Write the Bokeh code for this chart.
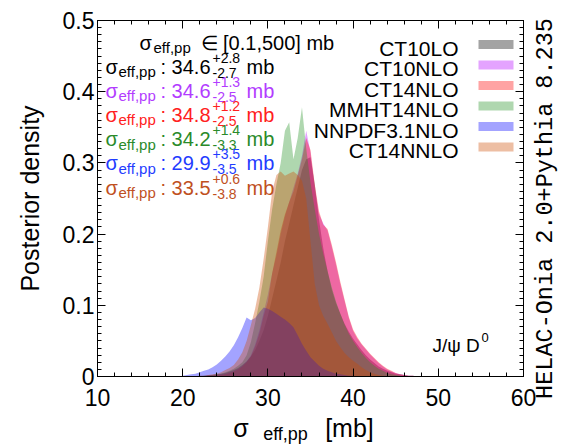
from math import pi
from bokeh.plotting import figure
from bokeh.models import Label, LinearAxis, Range1d, SingleIntervalTicker, FixedTicker
from bokeh.embed import file_html
from bokeh.resources import INLINE

# ---------------- data ----------------
sigma = [19.0, 19.5, 20.0, 20.5, 21.0, 21.5, 22.0, 22.5, 23.0, 23.5,
         24.0, 24.5, 25.0, 25.5, 26.0, 26.5, 27.0, 27.5, 28.0, 28.5,
         29.0, 29.5, 30.0, 30.5, 31.0, 31.5, 32.0, 32.5, 33.0, 33.5,
         34.0, 34.5, 35.0, 35.5, 36.0, 36.5, 37.0, 37.5, 38.0, 38.5,
         39.0, 39.5, 40.0, 40.5, 41.0, 41.5, 42.0, 42.5, 43.0, 43.5,
         44.0, 44.5, 45.0, 45.5, 46.0, 46.5, 47.0, 47.5, 48.0, 48.5,
         49.0]

ct10lo = [0, 0, 0, 0, 0, 0, 0.001, 0.001, 0.002, 0.002,
          0.003, 0.004, 0.005, 0.007, 0.009, 0.012, 0.016, 0.021, 0.028, 0.037,
          0.05, 0.065, 0.085, 0.11, 0.135, 0.16, 0.19, 0.215, 0.24, 0.265,
          0.29, 0.305, 0.308, 0.27, 0.22, 0.18, 0.148, 0.122, 0.103, 0.088,
          0.074, 0.063, 0.053, 0.045, 0.037, 0.03, 0.024, 0.019, 0.014, 0.011,
          0.008, 0.006, 0.004, 0.003, 0.002, 0.001, 0.001, 0, 0, 0,
          0]
ct10nlo = [0, 0, 0, 0, 0, 0, 0, 0, 0.001, 0.001,
           0.002, 0.003, 0.004, 0.006, 0.008, 0.011, 0.015, 0.021, 0.03, 0.045,
           0.065, 0.09, 0.115, 0.145, 0.17, 0.2, 0.225, 0.245, 0.265, 0.285,
           0.31, 0.345, 0.315, 0.265, 0.228, 0.215, 0.205, 0.182, 0.157, 0.13,
           0.106, 0.082, 0.064, 0.053, 0.045, 0.038, 0.031, 0.025, 0.019, 0.014,
           0.01, 0.007, 0.005, 0.003, 0.002, 0.001, 0.001, 0, 0, 0,
           0]
ct14nlo = [0, 0, 0, 0, 0, 0, 0, 0, 0.001, 0.001,
           0.002, 0.002, 0.003, 0.005, 0.007, 0.01, 0.014, 0.02, 0.028, 0.042,
           0.06, 0.085, 0.105, 0.145, 0.175, 0.205, 0.228, 0.245, 0.26, 0.282,
           0.305, 0.335, 0.318, 0.27, 0.232, 0.213, 0.207, 0.185, 0.16, 0.133,
           0.108, 0.084, 0.066, 0.055, 0.046, 0.039, 0.032, 0.026, 0.02, 0.015,
           0.011, 0.008, 0.005, 0.003, 0.002, 0.001, 0.001, 0, 0, 0,
           0]
mmht14nlo = [0, 0, 0, 0, 0, 0, 0, 0.001, 0.001, 0.002,
             0.003, 0.004, 0.006, 0.008, 0.011, 0.015, 0.02, 0.03, 0.048, 0.075,
             0.105, 0.14, 0.19, 0.235, 0.27, 0.3, 0.345, 0.357, 0.305, 0.335,
             0.378, 0.32, 0.272, 0.235, 0.2, 0.172, 0.148, 0.125, 0.105, 0.088,
             0.073, 0.06, 0.05, 0.041, 0.033, 0.026, 0.02, 0.015, 0.011, 0.008,
             0.005, 0.003, 0.002, 0.001, 0, 0, 0, 0, 0, 0,
             0]
nnpdf31nlo = [0, 0, 0.001, 0.002, 0.003, 0.004, 0.006, 0.008, 0.01, 0.013,
              0.017, 0.022, 0.028, 0.035, 0.044, 0.055, 0.068, 0.083, 0.079, 0.082,
              0.09, 0.097, 0.095, 0.092, 0.088, 0.084, 0.08, 0.075, 0.069, 0.058,
              0.046, 0.036, 0.027, 0.021, 0.015, 0.011, 0.008, 0.006, 0.004, 0.003,
              0.002, 0.001, 0.001, 0, 0, 0, 0, 0, 0, 0,
              0, 0, 0, 0, 0, 0, 0, 0, 0, 0,
              0]
ct14nnlo = [0, 0, 0, 0, 0, 0, 0.001, 0.001, 0.002, 0.003,
            0.004, 0.006, 0.009, 0.012, 0.016, 0.024, 0.034, 0.05, 0.072, 0.095,
            0.125, 0.165, 0.21, 0.26, 0.283, 0.288, 0.282, 0.285, 0.288, 0.283,
            0.275, 0.25, 0.19, 0.13, 0.1, 0.085, 0.074, 0.062, 0.05, 0.041,
            0.033, 0.027, 0.022, 0.018, 0.013, 0.009, 0.006, 0.004, 0.002, 0.001,
            0, 0, 0, 0, 0, 0, 0, 0, 0, 0,
            0]

pdf_names = ["CT10LO", "CT10NLO", "CT14NLO", "MMHT14NLO", "NNPDF3.1NLO", "CT14NNLO"]
series = [ct10lo, ct10nlo, ct14nlo, mmht14nlo, nnpdf31nlo, ct14nnlo]
fill_colors = ["#000000", "#b400ff", "#ff0000", "#219021", "#0000ff", "#cc4b00"]
text_colors = ["#000000", "#b23cff", "#ff2020", "#2a8a2a", "#1f3cff", "#c0501e"]
centrals = ["34.6", "34.6", "34.8", "34.2", "29.9", "33.5"]
err_up = ["+2.8", "+1.3", "+1.2", "+1.4", "+3.5", "+0.6"]
err_dn = ["-2.7", "-2.5", "-2.5", "-3.3", "-3.5", "-3.8"]
x_ticks_interval = 10
y_ticks_interval = 0.1

# ---------------- layout ----------------
W, H = 564, 447
FL, FR, FT, FB = 97, 523, 20, 376   # frame edges in canvas px
X0, X1, Y0, Y1 = 10, 60, 0, 0.5
ALPHA = 0.36
SANS = "Liberation Sans"
NB = "\u00a0"


def fx(px):  # canvas px -> data x
    return X0 + (px - FL) * (X1 - X0) / (FR - FL)


def fy(py):  # canvas px -> data y
    return Y0 + (FB - py) * (Y1 - Y0) / (FB - FT)


p = figure(width=W, height=H, x_range=Range1d(X0, X1), y_range=Range1d(Y0, Y1),
           output_backend="svg", toolbar_location=None,
           min_border_left=FL, min_border_right=W - FR,
           min_border_top=FT, min_border_bottom=H - FB)
p.xgrid.visible = False
p.ygrid.visible = False
p.outline_line_color = "black"
p.background_fill_color = "white"
p.border_fill_color = "white"

bottom_ax = p.below[0]
left_ax = p.left[0]

xt = SingleIntervalTicker(interval=x_ticks_interval, num_minor_ticks=5)
yt = SingleIntervalTicker(interval=y_ticks_interval, num_minor_ticks=10)
bottom_ax.ticker = xt
left_ax.ticker = yt
left_ax.major_label_overrides = {0: "0"}

top_ax = LinearAxis(ticker=xt)
right_ax = LinearAxis(ticker=yt)
p.add_layout(top_ax, "above")
p.add_layout(right_ax, "right")

for ax in [bottom_ax, left_ax, top_ax, right_ax]:
    ax.major_tick_in = 8
    ax.major_tick_out = 0
    ax.minor_tick_in = 4
    ax.minor_tick_out = 0
    ax.axis_line_color = "black"
    ax.major_tick_line_color = "black"
    ax.minor_tick_line_color = "black"
    ax.major_label_text_font = SANS
    ax.major_label_text_font_size = "23px"
    ax.major_label_text_color = "black"
    ax.axis_label_text_font_style = "normal"
    ax.axis_label_text_color = "black"
for ax in [top_ax, right_ax]:
    ax.major_label_text_font_size = "1px"
    ax.major_label_text_color = None
    ax.major_label_standoff = 0
bottom_ax.major_label_standoff = 12
left_ax.major_label_standoff = 3

# y title
left_ax.axis_label = "Posterior density"
left_ax.axis_label_text_font = SANS
left_ax.axis_label_text_font_size = "25px"
left_ax.axis_label_standoff = 16

# x title: main part on the bottom axis, subscript on a bare second axis
bottom_ax.axis_label = "σ" + NB * 11 + "[mb]" + NB * 2
bottom_ax.axis_label_text_font = SANS
bottom_ax.axis_label_text_font_size = "25px"
bottom_ax.axis_label_standoff = 5

sub_ax = LinearAxis(ticker=FixedTicker(ticks=[]), axis_line_color=None,
                    major_tick_line_color=None, minor_tick_line_color=None,
                    major_label_text_color=None, major_label_text_font_size="1px")
sub_ax.axis_label = "eff,pp" + NB * 10
sub_ax.axis_label_text_font = SANS
sub_ax.axis_label_text_font_size = "18px"
sub_ax.axis_label_text_font_style = "normal"
sub_ax.axis_label_text_color = "black"
sub_ax.axis_label_standoff = -21
p.add_layout(sub_ax, "below")

# filled densities
for vals, col in zip(series, fill_colors):
    p.varea(x=sigma, y1=0, y2=vals, fill_color=col, fill_alpha=ALPHA)


def lab(px, py, text, size, color="black", font=SANS, align="left",
        baseline="alphabetic", angle=0, place="center"):
    p.add_layout(Label(x=fx(px), y=fy(py), text=text, text_font=font,
                       text_font_size=f"{size}px", text_color=color,
                       text_align=align, text_baseline=baseline, angle=angle), place)


# header
lab(139, 42, "σ", 20)
lab(153, 47, "eff,pp", 15)
lab(200, 42, "∈ [0.1,500] mb", 20)

# per-PDF results
for i in range(6):
    B = 66 + 24.2 * i
    c = text_colors[i]
    lab(105, B, "σ", 20, c)
    lab(118, B + 5, "eff,pp", 15, c)
    lab(160, B, ": " + centrals[i], 20, c)
    lab(212, B - 9, err_up[i], 14, c)
    lab(212, B + 6, err_dn[i], 14, c)
    lab(246, B, "mb", 20, c)

# legend (labels left of swatches)
for i in range(6):
    yb = 47.5 + 20.5 * i
    lab(458, yb, pdf_names[i], 21, "black", align="right")
    p.quad(left=fx(478), right=fx(513), top=fy(yb - 8), bottom=fy(yb + 1),
           fill_color=fill_colors[i], fill_alpha=ALPHA, line_color=None)

# process label
lab(432, 345, "J/ψ D", 19)
lab(481, 337, "0", 13)

# generator tag, in the right side panel (reads bottom to top)
lab(545, 208, "HELAC-Onia 2.0+Pythia 8.235", 23.5, font="Liberation Mono",
    align="center", baseline="middle", angle=pi / 2, place="right")

open("out.html", "w").write(file_html(p, INLINE))
